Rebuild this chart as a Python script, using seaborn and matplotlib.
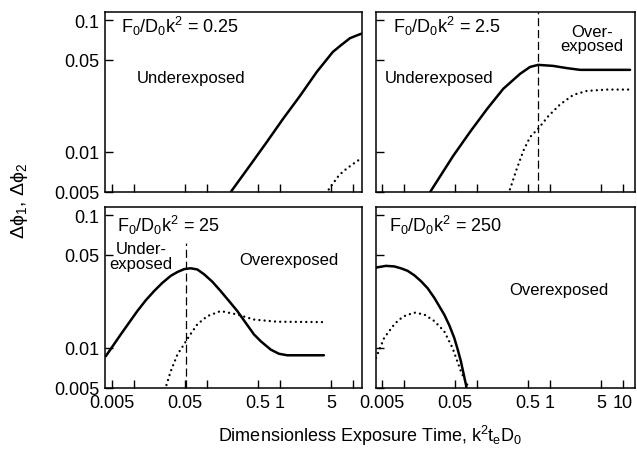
import matplotlib
matplotlib.use("Agg")
import matplotlib.pyplot as plt
import pandas as pd
import seaborn as sns

# ---- phase differences vs. dimensionless exposure time, four flux ratios ----
ratio_labels = ["0.25", "2.5", "25", "250"]

# F0/D0k^2 = 0.25
t_025_d1 = [0.213, 0.388, 0.66, 1.10, 1.88, 3.2, 5.3, 7.0, 9.1, 11.7, 13.3]
p_025_d1 = [0.0050, 0.0079, 0.0119, 0.0178, 0.0266, 0.0405, 0.0573, 0.0650, 0.0728, 0.0770, 0.0790]
t_025_d2 = [4.3, 4.55, 5.3, 6.24, 7.3, 8.55, 10.0, 11.7, 12.5]
p_025_d2 = [0.0048, 0.0051, 0.00575, 0.0065, 0.0071, 0.0076, 0.0081, 0.0086, 0.0088]

# F0/D0k^2 = 2.5
t_25_d1 = [0.0228, 0.047, 0.080, 0.137, 0.228, 0.388, 0.532, 0.686, 1.10, 1.69, 2.58, 12.5]
p_25_d1 = [0.0050, 0.00935, 0.0142, 0.0212, 0.0301, 0.0391, 0.0441, 0.0457, 0.0449, 0.0432, 0.0419, 0.0419]
t_25_d2 = [0.262, 0.276, 0.350, 0.432, 0.532, 0.686, 0.948, 1.37, 2.09, 3.18, 5.98, 11.8]
p_25_d2 = [0.0048, 0.00503, 0.00747, 0.01026, 0.01298, 0.0150, 0.0187, 0.0229, 0.0271, 0.0290, 0.0297, 0.0297]

# F0/D0k^2 = 25
t_250_d1 = [0.0041, 0.00658, 0.0111, 0.0145, 0.0188, 0.0244, 0.0318, 0.0393, 0.0484, 0.0598,
            0.0736, 0.091, 0.118, 0.154, 0.200, 0.260, 0.339, 0.44, 0.544, 0.746, 0.97, 1.26, 4.0]
p_250_d1 = [0.00863, 0.0126, 0.0189, 0.0228, 0.0267, 0.0308, 0.0348, 0.0372, 0.0391, 0.0397,
            0.0389, 0.0358, 0.0315, 0.0267, 0.0225, 0.0189, 0.0154, 0.0126, 0.0112, 0.00968, 0.0090, 0.00877, 0.00877]
t_250_d2 = [0.0265, 0.0318, 0.0393, 0.0484, 0.0568, 0.0736, 0.101, 0.154, 0.260, 0.44, 0.918, 4.0]
p_250_d2 = [0.0048, 0.00664, 0.00889, 0.0106, 0.0122, 0.0150, 0.0173, 0.0189, 0.0178, 0.0163, 0.0157, 0.0156]

# F0/D0k^2 = 250
t_2500_d1 = [0.0041, 0.00562, 0.0073, 0.0090, 0.0111, 0.0137, 0.0169, 0.0209, 0.0258, 0.0353,
             0.0414, 0.0484, 0.0538, 0.0598, 0.0702, 0.0720]
p_2500_d1 = [0.0402, 0.0414, 0.0410, 0.0397, 0.0380, 0.0352, 0.0318, 0.0281, 0.0238, 0.0178,
             0.0148, 0.0119, 0.0098, 0.0079, 0.00527, 0.0048]
t_2500_d2 = [0.0041, 0.00532, 0.0073, 0.00855, 0.0100, 0.0137, 0.0188, 0.0258, 0.0353, 0.0459, 0.0598, 0.0790]
p_2500_d2 = [0.00839, 0.0119, 0.0150, 0.0163, 0.0173, 0.0184, 0.0178, 0.0159, 0.0133, 0.00997, 0.00664, 0.0048]

# optimum exposure (boundary between under- and overexposure)
boundary_t = [None, 0.686, 0.051, None]
boundary_top = [None, 1.0, 0.80, None]

x_ticks = [0.005, 0.01, 0.05, 0.1, 0.5, 1, 5, 10]
x_labels_left = ["0.005", "", "0.05", "", "0.5", "1", "5", ""]
x_labels_right = ["0.005", "", "0.05", "", "0.5", "1", "5", "10"]
y_ticks = [0.005, 0.01, 0.05, 0.1]
y_labels = ["0.005", "0.01", "0.05", "0.1"]

curves = [
    (t_025_d1, p_025_d1, t_025_d2, p_025_d2),
    (t_25_d1, p_25_d1, t_25_d2, p_25_d2),
    (t_250_d1, p_250_d1, t_250_d2, p_250_d2),
    (t_2500_d1, p_2500_d1, t_2500_d2, p_2500_d2),
]

sns.set_theme(style="ticks", rc={
    "axes.edgecolor": "black", "axes.linewidth": 1.1,
    "xtick.color": "black", "ytick.color": "black",
    "text.color": "black", "axes.labelcolor": "black",
    "xtick.direction": "in", "ytick.direction": "in",
})
plt.rcParams["font.family"] = ["Liberation Sans", "DejaVu Sans"]
plt.rcParams["mathtext.fontset"] = "custom"
plt.rcParams["mathtext.rm"] = "Liberation Sans"
plt.rcParams["mathtext.it"] = "Liberation Sans:italic"
plt.rcParams["mathtext.default"] = "regular"

W, H = 637, 456
fig = plt.figure(figsize=(W / 100, H / 100), dpi=100)
fig.patch.set_facecolor("white")


def frac_box(x0, x1, y0, y1):
    return [x0 / W, 1 - y1 / H, (x1 - x0) / W, (y1 - y0) / H]


boxes = [
    frac_box(105, 362, 13, 193),
    frac_box(376, 635, 13, 193),
    frac_box(105, 362, 208, 389),
    frac_box(376, 635, 208, 389),
]
xlims = [(0.0040, 13.3), (0.0041, 14.6), (0.0040, 13.3), (0.0041, 14.6)]

axes = []
for i, box in enumerate(boxes):
    ax = fig.add_axes(box)
    ax.set_xscale("log")
    ax.set_yscale("log")
    t1, p1, t2, p2 = curves[i]
    sns.lineplot(x=t1, y=p1, ax=ax, color="black", lw=1.8,
                 estimator=None, sort=False, solid_joinstyle="round")
    sns.lineplot(x=t2, y=p2, ax=ax, color="black", lw=1.7,
                 linestyle=(0, (0.01, 2.2)), dash_capstyle="round",
                 estimator=None, sort=False)
    if boundary_t[i] is not None:
        ax.axvline(boundary_t[i], ymin=0, ymax=boundary_top[i], color="black",
                   lw=0.9, linestyle=(0, (6.5, 3)))
    ax.set_xlim(*xlims[i])
    ax.set_ylim(0.00497, 0.115)
    ax.set_xticks(x_ticks)
    ax.set_yticks(y_ticks)
    ax.minorticks_off()
    ax.tick_params(axis="both", length=6, width=1.0, labelsize=13, pad=4)
    if i >= 2:
        ax.set_xticklabels(x_labels_left if i == 2 else x_labels_right)
    else:
        ax.set_xticklabels([""] * len(x_ticks))
    if i % 2 == 0:
        ax.set_yticklabels(y_labels)
    else:
        ax.set_yticklabels([""] * len(y_ticks))
    ax.set_xlabel("")
    ax.set_ylabel("")
    axes.append(ax)

# panel titles (flux ratio)
title_pos = [(0.062, 0.889), (0.066, 0.889), (0.047, 0.870), (0.050, 0.866)]
for ax, lab, (tx, ty) in zip(axes, ratio_labels, title_pos):
    ax.text(tx, ty, r"F$_0$/D$_0$k$^2$ = " + lab, transform=ax.transAxes,
            fontsize=13, ha="left", va="baseline")

# exposure regime annotations
axes[0].text(0.125, 0.613, "Underexposed", transform=axes[0].transAxes,
             fontsize=12, ha="left", va="baseline")
axes[1].text(0.035, 0.613, "Underexposed", transform=axes[1].transAxes,
             fontsize=12, ha="left", va="baseline")
axes[1].text(0.834, 0.935, "Over-\nexposed", transform=axes[1].transAxes,
             fontsize=12, ha="center", va="top", multialignment="center",
             linespacing=0.95)
axes[2].text(0.14, 0.81, "Under-\nexposed", transform=axes[2].transAxes,
             fontsize=12, ha="center", va="top", multialignment="center",
             linespacing=0.95)
axes[2].text(0.521, 0.685, "Overexposed", transform=axes[2].transAxes,
             fontsize=12, ha="left", va="baseline")
axes[3].text(0.514, 0.519, "Overexposed", transform=axes[3].transAxes,
             fontsize=12, ha="left", va="baseline")

fig.text(370 / W, 1 - 442 / H, r"Dimensionless Exposure Time, k$^2$t$_e$D$_0$",
         fontsize=13, ha="center", va="baseline")
fig.text(19 / W, 1 - 201 / H, r"$\Delta\phi_1$, $\Delta\phi_2$",
         fontsize=14, ha="center", va="center", rotation=90)

fig.savefig("out.png", dpi=100, facecolor="white")
